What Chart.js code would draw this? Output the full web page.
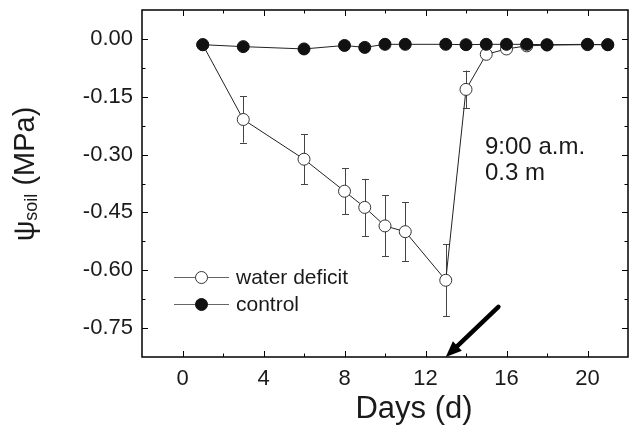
<!DOCTYPE html>
<html>
<head>
<meta charset="utf-8">
<script src="https://cdn.jsdelivr.net/npm/chart.js@4.4.1/dist/chart.umd.min.js"></script>
<style>
  html, body { margin: 0; padding: 0; background: #fff; }
  #wrap { width: 629px; height: 425px; }
</style>
</head>
<body>
<div id="wrap"><canvas id="chart" width="629" height="425"></canvas></div>
<script>
  // axis ticks
  const X_TICKS = [0, 4, 8, 12, 16, 20];
  const X_MINOR = [2, 6, 10, 14, 18];
  const Y_TICKS = [0, -0.15, -0.30, -0.45, -0.60, -0.75];
  const Y_MINOR = [-0.075, -0.225, -0.375, -0.525, -0.675];

  // control
  const CONTROL_DAYS = [1, 3, 6, 8, 9, 10, 11, 13, 14, 15, 16, 17, 18, 20, 21];
  const CONTROL_PSI  = [-0.015, -0.020, -0.026, -0.017, -0.022, -0.014, -0.014, -0.014, -0.015, -0.014, -0.014, -0.014, -0.015, -0.014, -0.015];

  // water deficit (mean and error)
  const DEFICIT_DAYS = [1, 3, 6, 8, 9, 10, 11, 13, 14, 15, 16, 17, 18, 20, 21];
  const DEFICIT_PSI  = [-0.015, -0.209, -0.312, -0.395, -0.437, -0.485, -0.500, -0.626, -0.131, -0.040, -0.026, -0.018, -0.016, -0.015, -0.015];
  const DEFICIT_ERR  = [0, 0.060, 0.065, 0.060, 0.074, 0.079, 0.076, 0.093, 0.049, 0, 0, 0, 0, 0, 0];

  // arrow pointing at the re-watering day
  const ARROW_FROM = [15.6, -0.695];
  const ARROW_TO   = [13, -0.825];

  const NOTE_LINES = ["9:00 a.m.", "0.3 m"];

  const FONT = "'Liberation Sans', Arial, Helvetica, sans-serif";
  const INK = "#1a1a1a";

  const pts = (xs, ys) => xs.map((x, i) => ({ x, y: ys[i] }));

  const extras = {
    id: "extras",
    beforeDatasetsDraw(chart){
      const { ctx } = chart;
      const xs = chart.scales.x, ys = chart.scales.y;
      // error bars behind the symbols
      ctx.save();
      ctx.strokeStyle = "#444";
      ctx.lineWidth = 1;
      DEFICIT_DAYS.forEach((d, i) => {
        const e = DEFICIT_ERR[i];
        if(!e) return;
        const px = Math.round(xs.getPixelForValue(d)) + 0.5;
        const top = ys.getPixelForValue(DEFICIT_PSI[i] + e);
        const bot = ys.getPixelForValue(DEFICIT_PSI[i] - e);
        ctx.beginPath();
        ctx.moveTo(px, top); ctx.lineTo(px, bot);
        ctx.moveTo(px - 3.5, Math.round(top) + 0.5); ctx.lineTo(px + 3.5, Math.round(top) + 0.5);
        ctx.moveTo(px - 3.5, Math.round(bot) + 0.5); ctx.lineTo(px + 3.5, Math.round(bot) + 0.5);
        ctx.stroke();
      });
      ctx.restore();
    },
    afterDraw(chart){
      const { ctx, chartArea: a } = chart;
      const xs = chart.scales.x, ys = chart.scales.y;
      ctx.save();

      // frame
      ctx.strokeStyle = "#000";
      ctx.lineWidth = 1.5;
      ctx.strokeRect(a.left, a.top, a.right - a.left, a.bottom - a.top);

      // inward ticks on all four sides
      ctx.lineWidth = 1;
      ctx.beginPath();
      const xt = (v, len) => {
        const p = Math.round(xs.getPixelForValue(v)) + 0.5;
        ctx.moveTo(p, a.bottom); ctx.lineTo(p, a.bottom - len);
        ctx.moveTo(p, a.top); ctx.lineTo(p, a.top + len);
      };
      const yt = (v, len) => {
        const p = Math.round(ys.getPixelForValue(v)) + 0.5;
        ctx.moveTo(a.left, p); ctx.lineTo(a.left + len, p);
        ctx.moveTo(a.right, p); ctx.lineTo(a.right - len, p);
      };
      X_TICKS.forEach(v => xt(v, 6));
      X_MINOR.forEach(v => xt(v, 3.5));
      Y_TICKS.forEach(v => yt(v, 6));
      Y_MINOR.forEach(v => yt(v, 3.5));
      ctx.stroke();

      // legend
      const lx = a.left + 32, ly = a.top + 267;
      [[chart.data.datasets[1], 0], [chart.data.datasets[0], 27]].forEach(([ds, dy]) => {
        const y = ly + dy;
        ctx.strokeStyle = "#666";
        ctx.lineWidth = 1;
        ctx.beginPath();
        ctx.moveTo(lx, y + 0.5); ctx.lineTo(lx + 55, y + 0.5);
        ctx.stroke();
        ctx.beginPath();
        ctx.arc(lx + 27.5, y + 0.5, 6, 0, Math.PI * 2);
        ctx.fillStyle = ds.pointBackgroundColor;
        ctx.fill();
        ctx.strokeStyle = ds.pointBorderColor;
        ctx.stroke();
        ctx.fillStyle = INK;
        ctx.font = `21px ${FONT}`;
        ctx.textBaseline = "middle";
        ctx.textAlign = "left";
        ctx.fillText(ds.label, lx + 62, y + 1);
      });

      // note
      ctx.fillStyle = INK;
      ctx.font = `24px ${FONT}`;
      ctx.textBaseline = "middle";
      ctx.fillText(NOTE_LINES[0], a.left + 343, a.top + 137);
      ctx.fillText(NOTE_LINES[1], a.left + 343, a.top + 163);

      // arrow
      const x0 = xs.getPixelForValue(ARROW_FROM[0]), y0 = ys.getPixelForValue(ARROW_FROM[1]);
      const x1 = xs.getPixelForValue(ARROW_TO[0]),   y1 = ys.getPixelForValue(ARROW_TO[1]);
      const ang = Math.atan2(y1 - y0, x1 - x0);
      const hl = 16, hw = 6.5;
      const bx = x1 - Math.cos(ang) * hl, by = y1 - Math.sin(ang) * hl;
      ctx.strokeStyle = "#000";
      ctx.lineWidth = 4.5;
      ctx.lineCap = "round";
      ctx.beginPath();
      ctx.moveTo(x0, y0); ctx.lineTo(bx + Math.cos(ang) * 3, by + Math.sin(ang) * 3);
      ctx.stroke();
      ctx.fillStyle = "#000";
      ctx.beginPath();
      ctx.moveTo(x1, y1);
      ctx.lineTo(bx + Math.sin(ang) * hw, by - Math.cos(ang) * hw);
      ctx.lineTo(bx - Math.sin(ang) * hw, by + Math.cos(ang) * hw);
      ctx.closePath();
      ctx.fill();

      // x title
      ctx.fillStyle = INK;
      ctx.font = `31px ${FONT}`;
      ctx.textAlign = "center";
      ctx.textBaseline = "alphabetic";
      ctx.fillText("Days (d)", 414, 418);

      // y title: psi with subscript "soil"
      ctx.translate(34, 174);
      ctx.rotate(-Math.PI / 2);
      ctx.textAlign = "left";
      const big = `29px ${FONT}`, small = `18px ${FONT}`;
      ctx.font = big; const w1 = ctx.measureText("\u03C8").width;
      ctx.font = small; const w2 = ctx.measureText("soil").width;
      ctx.font = big; const w3 = ctx.measureText(" (MPa)").width;
      let sx = -(w1 + w2 + w3) / 2;
      ctx.font = big; ctx.fillText("\u03C8", sx, 0); sx += w1;
      ctx.font = small; ctx.fillText("soil", sx, 3); sx += w2;
      ctx.font = big; ctx.fillText(" (MPa)", sx, 0);

      ctx.restore();
    }
  };

  new Chart(document.getElementById("chart"), {
    type: "line",
    data: {
      datasets: [
        {
          label: "control",
          data: pts(CONTROL_DAYS, CONTROL_PSI),
          borderColor: "#222",
          borderWidth: 1,
          pointRadius: 6,
          pointBackgroundColor: "#111",
          pointBorderColor: "#111",
          pointBorderWidth: 1,
          tension: 0
        },
        {
          label: "water deficit",
          data: pts(DEFICIT_DAYS, DEFICIT_PSI),
          borderColor: "#222",
          borderWidth: 1,
          pointRadius: 6,
          pointBackgroundColor: "#fff",
          pointBorderColor: "#333",
          pointBorderWidth: 1,
          tension: 0
        }
      ]
    },
    options: {
      responsive: false,
      animation: false,
      layout: { autoPadding: false, padding: { left: 0, right: 1, top: 10, bottom: 0 } },
      plugins: { legend: { display: false }, tooltip: { enabled: false } },
      scales: {
        x: {
          type: "linear",
          min: -2, max: 22,
          grid: { display: false, drawTicks: false },
          border: { display: false },
          afterBuildTicks: s => { s.ticks = X_TICKS.map(v => ({ value: v })); },
          afterFit: s => { s.height = 68; s.paddingLeft = 0; s.paddingRight = 0; },
          ticks: {
            padding: 9,
            color: INK,
            font: { family: FONT, size: 22 },
            callback: v => String(v)
          }
        },
        y: {
          min: -0.825, max: 0.075,
          grid: { display: false, drawTicks: false },
          border: { display: false },
          afterBuildTicks: s => { s.ticks = Y_TICKS.map(v => ({ value: v })); },
          afterFit: s => { s.width = 142; s.paddingTop = 0; s.paddingBottom = 0; },
          ticks: {
            padding: 9,
            color: INK,
            font: { family: FONT, size: 22 },
            callback: v => Number(v).toFixed(2)
          }
        }
      }
    },
    plugins: [extras]
  });
</script>
</body>
</html>
